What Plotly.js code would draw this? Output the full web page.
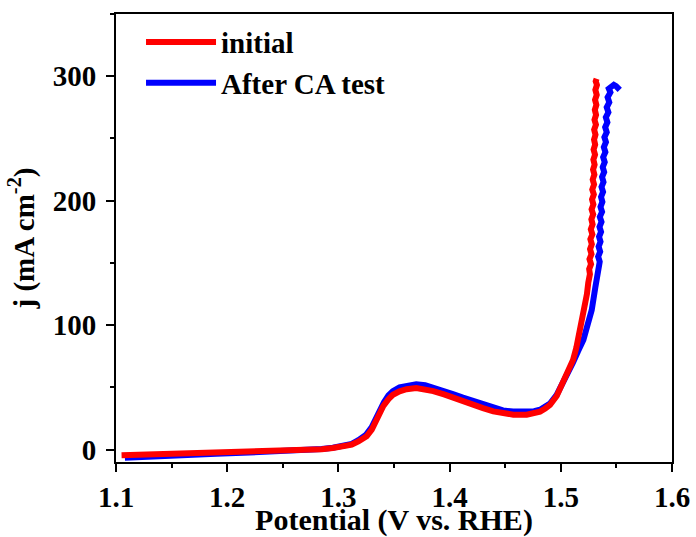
<!DOCTYPE html>
<html>
<head>
<meta charset="utf-8">
<script src="https://cdn.plot.ly/plotly-3.0.1.min.js"></script>
<style>html,body{margin:0;padding:0;background:#fff;}#chart{width:696px;height:537px;}</style>
</head>
<body>
<div id="chart"></div>
<script>
// initial: potential (V vs. RHE)
const initialV = [1.105, 1.13, 1.16, 1.19, 1.22, 1.25, 1.27, 1.285, 1.295, 1.305, 1.312, 1.318, 1.3254, 1.330, 1.3344, 1.338, 1.3404, 1.345, 1.349, 1.355, 1.3613, 1.370, 1.378, 1.3853, 1.395, 1.4033, 1.4125, 1.4213, 1.430, 1.4393, 1.448, 1.4573, 1.4693, 1.476, 1.4813, 1.486, 1.4903, 1.4963, 1.503, 1.507, 1.511, 1.514, 1.517, 1.5195, 1.5218, 1.5235, 1.5247, 1.5262,
  1.5255, 1.5272, 1.5258, 1.5276, 1.5263, 1.5279, 1.5266, 1.5284, 1.5270, 1.5286, 1.5275, 1.5291, 1.5277, 1.5293, 1.5281, 1.5297, 1.5283, 1.5299, 1.5287, 1.5302, 1.5290, 1.5304, 1.5293, 1.5308, 1.5295, 1.5309, 1.5299, 1.5312, 1.5300, 1.5316, 1.5303, 1.5317, 1.5306, 1.5320, 1.5308, 1.5323, 1.5311, 1.5325, 1.5314, 1.5322];
// initial: j (mA cm-2)
const initialJ = [-4.6, -4.0, -3.3, -2.7, -2.1, -1.3, -0.5, 0.3, 1.2, 2.5, 4, 6.5, 10.7, 16, 24, 31, 35, 40.5, 44, 46.8, 48.5, 49.5, 48.8, 47, 44.3, 41.5, 38.7, 36, 33.3, 30.7, 29, 28, 28, 29, 30.5, 33, 36, 43, 55, 63, 72, 82, 94, 104, 115, 125, 134, 141,
  145, 149, 153, 157, 161, 165, 169, 173, 177, 181, 185, 189, 193, 197, 201, 205, 209, 213, 217, 221, 225, 229, 233, 237, 241, 245, 249, 253, 257, 261, 265, 269, 273, 277, 281, 285, 289, 293, 296, 298];

// after CA test: potential (V vs. RHE)
const afterV = [1.108, 1.13, 1.16, 1.19, 1.22, 1.25, 1.27, 1.285, 1.295, 1.305, 1.312, 1.318, 1.325, 1.330, 1.334, 1.338, 1.341, 1.345, 1.349, 1.355, 1.3613, 1.370, 1.378, 1.385, 1.395, 1.403, 1.412, 1.421, 1.430, 1.439, 1.448, 1.457, 1.469, 1.476, 1.4813, 1.486, 1.4903, 1.4963, 1.503, 1.507, 1.511, 1.5155, 1.5203, 1.524, 1.5278, 1.531, 1.5337,
  1.5350, 1.5336, 1.5354, 1.5340, 1.5357, 1.5344, 1.5362, 1.5348, 1.5366, 1.5351, 1.5371, 1.5357, 1.5374, 1.5362, 1.5380, 1.5366, 1.5384, 1.5371, 1.5390, 1.5377, 1.5395, 1.5381, 1.5401, 1.5387, 1.5406, 1.5392, 1.5413, 1.5399, 1.5419, 1.5405, 1.5428, 1.5413, 1.5436, 1.5421, 1.5446, 1.5432, 1.5458, 1.5477, 1.5497, 1.5530];
// after CA test: j (mA cm-2)
const afterJ = [-6.6, -5.5, -4.3, -3.3, -2.4, -1.5, -0.6, 0.4, 1.4, 2.8, 4.5, 7.5, 12, 18, 26, 33, 38, 43.5, 47, 50, 51.5, 52.5, 51.8, 50, 47.3, 44.5, 41.7, 39, 36.2, 33.5, 31.5, 30.5, 30, 30.8, 32, 34.3, 37, 44, 55, 62, 70, 79, 88, 100, 112, 130, 147,
  151, 155, 159, 163, 167, 171, 175, 179, 183, 187, 191, 195, 199, 203, 207, 211, 215, 219, 223, 227, 231, 235, 239, 243, 247, 251, 255, 259, 263, 267, 271, 275, 279, 283, 287, 290, 292, 293, 292, 289];

const xTicks = [1.1, 1.2, 1.3, 1.4, 1.5, 1.6];
const yTicks = [0, 100, 200, 300];

const FONT = 'Liberation Serif, Times New Roman, serif';

const traces = [
  {x: afterV, y: afterJ, name: 'After CA test', type: 'scatter', mode: 'lines',
   line: {color: '#0000ff', width: 6}, legendrank: 2},
  {x: initialV, y: initialJ, name: 'initial', type: 'scatter', mode: 'lines',
   line: {color: '#ff0000', width: 6}, legendrank: 1}
];

const axisCommon = {
  showline: true, linecolor: '#000', linewidth: 2, mirror: true,
  ticks: 'outside', ticklen: 8, tickwidth: 2, tickcolor: '#000',
  showgrid: false, zeroline: false,
  tickfont: {size: 29, color: '#000', family: FONT, weight: 'bold'},
  minor: {ticks: 'outside', ticklen: 4, tickwidth: 2, tickcolor: '#000', showgrid: false}
};

const layout = {
  width: 696, height: 537,
  margin: {l: 116, r: 24, t: 14, b: 75},
  paper_bgcolor: '#fff', plot_bgcolor: '#fff',
  font: {family: FONT, size: 29, color: '#000', weight: 'bold'},
  showlegend: true,
  legend: {x: 0.045, y: 0.994, xanchor: 'left', yanchor: 'top', bgcolor: 'rgba(0,0,0,0)',
           font: {size: 29, weight: 'bold', family: FONT}, itemwidth: 70, tracegroupgap: 0},
  xaxis: Object.assign({}, axisCommon, {
    range: [1.1, 1.6], tickmode: 'array', tickvals: xTicks, ticktext: xTicks.map(v => v.toFixed(1)),
    ticklabelstandoff: 0,
    minor: Object.assign({}, axisCommon.minor, {dtick: 0.05, tick0: 1.1}),
    title: {text: 'Potential (V vs. RHE)', font: {size: 30, weight: 'bold', family: FONT}, standoff: 0}
  }),
  yaxis: Object.assign({}, axisCommon, {
    range: [-10, 350], tickmode: 'array', tickvals: yTicks, ticktext: yTicks.map(String),
    ticklabelstandoff: 4,
    minor: Object.assign({}, axisCommon.minor, {dtick: 50, tick0: 0}),
    title: {text: 'j (mA cm<sup>-2</sup>)', font: {size: 29, weight: 'bold', family: FONT}, standoff: 10}
  })
};

Plotly.newPlot('chart', traces, layout, {displayModeBar: false, staticPlot: true});
</script>
</body>
</html>
